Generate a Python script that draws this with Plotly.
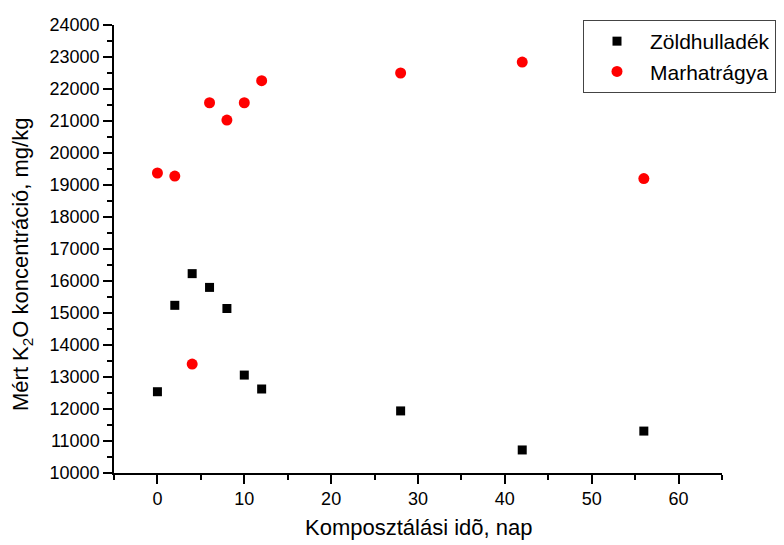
import plotly.graph_objects as go

days_green = [0, 2, 4, 6, 8, 10, 12, 28, 42, 56]
k2o_green = [12540, 15240, 16230, 15800, 15140, 13060, 12625, 11940, 10720, 11310]

days_manure = [0, 2, 4, 6, 8, 10, 12, 28, 42, 56]
k2o_manure = [19375, 19280, 13405, 21570, 21030, 21570, 22260, 22500, 22840, 19200]

series_names = ["Zöldhulladék", "Marhatrágya"]
x_title = "Komposztálási idõ, nap"
y_title = "Mért K<sub>2</sub>O koncentráció, mg/kg"

font_family = "Liberation Sans, Arial, sans-serif"

fig = go.Figure()
fig.add_trace(go.Scatter(
    x=days_green, y=k2o_green, mode="markers", name=series_names[0],
    marker=dict(symbol="square", size=9, color="black"),
))
fig.add_trace(go.Scatter(
    x=days_manure, y=k2o_manure, mode="markers", name=series_names[1],
    marker=dict(symbol="circle", size=11, color="#ff0000"),
))

axis_common = dict(
    showgrid=False, zeroline=False, showline=True, linecolor="black", linewidth=1.5,
    ticks="outside", ticklen=9, tickwidth=1.5, tickcolor="black",
    tickfont=dict(family=font_family, size=18, color="black"),
    mirror=False, automargin=False,
)

fig.update_layout(
    width=784, height=545,
    margin=dict(l=114, r=62, t=25, b=72, autoexpand=False),
    plot_bgcolor="white", paper_bgcolor="white",
    font=dict(family=font_family, color="black"),
    xaxis=dict(range=[-5, 65], tick0=0, dtick=10,
               minor=dict(dtick=5, tick0=0, ticks="outside", ticklen=5, tickcolor="black", tickwidth=1.5, showgrid=False),
               **axis_common),
    yaxis=dict(range=[10000, 24000], tick0=10000, dtick=1000, tickformat="d",
               minor=dict(dtick=500, tick0=10000, ticks="outside", ticklen=5, tickcolor="black", tickwidth=1.5, showgrid=False),
               **axis_common),
    legend=dict(
        xref="container", yref="container",
        x=583 / 784, y=1 - 20 / 545, xanchor="left", yanchor="top",
        bordercolor="#444", borderwidth=1, bgcolor="white",
        font=dict(family=font_family, size=21, color="black"),
        itemwidth=56,
    ),
    showlegend=True,
    annotations=[
        dict(text=x_title, xref="paper", yref="paper", x=0.5, y=-(527 - 473) / 448,
             xanchor="center", yanchor="middle", showarrow=False,
             font=dict(family=font_family, size=22, color="black")),
        dict(text=y_title, xref="paper", yref="paper", x=(22 - 114) / 608, y=(473 - 265) / 448,
             xanchor="center", yanchor="middle", showarrow=False, textangle=-90,
             font=dict(family=font_family, size=22, color="black")),
    ],
)

fig.write_html("out.html")
